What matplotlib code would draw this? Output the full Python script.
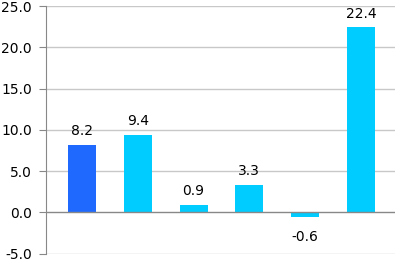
import numpy as np
from matplotlib import pyplot as plt

# Values
values = [8.2, 9.4, 0.9, 3.3, -0.6, 22.4]
bar_colors = ['#1F69FF', '#00CCFF', '#00CCFF', '#00CCFF', '#00CCFF', '#00CCFF']
y_ticks = [-5, 0, 5, 10, 15, 20, 25]

fig = plt.figure(figsize=(3.96, 2.59), dpi=100)
ax = fig.add_axes([46 / 396, 1 - 253.5 / 259, 349 / 396, 247.5 / 259])

x = np.arange(len(values))
ax.bar(x, values, width=0.5, color=bar_colors, zorder=3)

# value labels
for xi, v in zip(x, values):
    if v >= 0:
        ax.text(xi, v + 0.8, f'{v:.1f}', ha='center', va='bottom', fontsize=10)
    else:
        ax.text(xi, v - 1.6, f'{v:.1f}', ha='center', va='top', fontsize=10)

ax.set_ylim(-5, 25)
ax.set_xlim(-0.645, 5.61)
ax.set_yticks(y_ticks)
ax.set_yticklabels([f'{t:.1f}' for t in y_ticks], fontsize=10)
ax.set_xticks([])

# gridlines
for t in y_ticks:
    if t == 0:
        ax.axhline(t, color='#888888', lw=1, zorder=4)
    else:
        ax.axhline(t, color='#C8C8C8', lw=1, zorder=1)

for side in ['top', 'right', 'bottom']:
    ax.spines[side].set_visible(False)
ax.spines['left'].set_color('#888888')
ax.tick_params(axis='y', length=5, color='#888888', pad=5)

plt.savefig('out.png', dpi=100)
